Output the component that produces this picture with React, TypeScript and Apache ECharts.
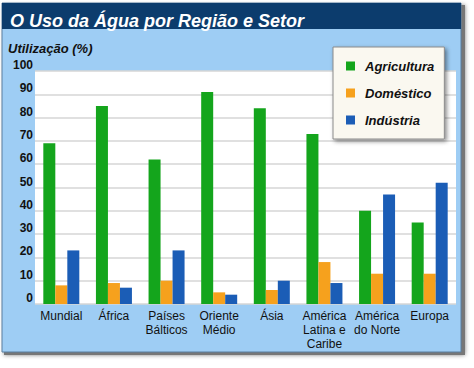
import React, { useEffect, useRef } from "react";
import * as echarts from "echarts";

const categories = [
  "Mundial",
  "África",
  "Países\nBálticos",
  "Oriente\nMédio",
  "Ásia",
  "América\nLatina e\nCaribe",
  "América\ndo Norte",
  "Europa",
];
const agricultura = [69, 85, 62, 91, 84, 73, 40, 35];
const domestico = [8, 9, 10, 5, 6, 18, 13, 13];
const industria = [23, 7, 23, 4, 10, 9, 47, 52];
const seriesNames = ["Agricultura", "Doméstico", "Indústria"];
const colors = ["#14a51c", "#f6a11d", "#1b5db6"];
const titleText = "O Uso da Água por Região e Setor";
const yAxisTitle = "Utilização (%)";

const FONT = "'Liberation Sans', Arial, sans-serif";

export default function App() {
  const ref = useRef<HTMLDivElement>(null);
  useEffect(() => {
    if (!ref.current) return;
    const chart = echarts.init(ref.current, null, { renderer: "svg" });
    const mk = (name: string, data: number[], color: string) => ({
      name,
      type: "bar",
      data,
      barWidth: 12,
      barGap: "0%",
      itemStyle: { color },
    });
    chart.setOption({
      animation: false,
      backgroundColor: "#ffffff",
      textStyle: { fontFamily: FONT },
      graphic: [
        {
          type: "rect",
          z: -10,
          shape: { x: 4, y: 5, width: 461, height: 350 },
          style: { fill: "#777", shadowBlur: 4, shadowColor: "rgba(0,0,0,0.5)" },
        },
        {
          type: "rect",
          z: -9,
          shape: { x: 2, y: 3, width: 459, height: 349 },
          style: { fill: "#9ecdf4", stroke: "#5a7fa0", lineWidth: 1 },
        },
        {
          type: "rect",
          z: -8,
          shape: { x: 2, y: 3, width: 459, height: 26 },
          style: { fill: "#0c3c6d" },
        },
        {
          type: "text",
          z: 10,
          x: 10,
          y: 21,
          style: {
            text: titleText,
            fill: "#ffffff",
            font: "italic bold 18px " + FONT,
            verticalAlign: "middle",
            textAlign: "left",
          },
        },
        {
          type: "text",
          z: 10,
          x: 8,
          y: 48.5,
          style: {
            text: yAxisTitle,
            fill: "#111111",
            font: "italic bold 13px " + FONT,
            verticalAlign: "middle",
            textAlign: "left",
          },
        },
      ],
      legend: {
        orient: "vertical",
        left: 333,
        top: 47,
        data: seriesNames,
        icon: "rect",
        itemWidth: 9,
        itemHeight: 9,
        itemGap: 13,
        padding: [12, 10, 12, 13],
        backgroundColor: "#faf8f0",
        borderColor: "#8a8a8a",
        borderWidth: 1,
        shadowBlur: 4,
        shadowColor: "rgba(0,0,0,0.45)",
        shadowOffsetX: 2,
        shadowOffsetY: 2,
        textStyle: {
          fontFamily: FONT,
          fontSize: 13,
          fontWeight: "bold",
          fontStyle: "italic",
          color: "#111111",
          lineHeight: 14,
          padding: [0, 0, 0, 5],
        },
      },
      grid: {
        left: 35,
        top: 71,
        width: 421,
        height: 233,
        show: true,
        backgroundColor: "#ffffff",
        borderWidth: 0,
      },
      xAxis: {
        type: "category",
        data: categories,
        axisLine: { show: false },
        axisTick: { show: false },
        axisLabel: {
          interval: 0,
          margin: 5,
          color: "#111111",
          fontFamily: FONT,
          fontSize: 12,
          lineHeight: 14,
        },
      },
      yAxis: {
        type: "value",
        min: 0,
        max: 100,
        interval: 10,
        axisLine: { show: false },
        axisTick: { show: false },
        splitLine: { lineStyle: { color: "#d6d6d6", width: 1.5 } },
        axisLabel: {
          margin: 2,
          color: "#111111",
          fontFamily: FONT,
          fontSize: 12,
          fontWeight: "bold",
          verticalAlign: "bottom",
          lineHeight: 12,
        },
      },
      series: [
        mk(seriesNames[0], agricultura, colors[0]),
        mk(seriesNames[1], domestico, colors[1]),
        mk(seriesNames[2], industria, colors[2]),
      ],
    });
    return () => chart.dispose();
  }, []);
  return (
    <div
      ref={ref}
      style={{ position: "absolute", left: 0, top: 0, width: 474, height: 368 }}
    />
  );
}
